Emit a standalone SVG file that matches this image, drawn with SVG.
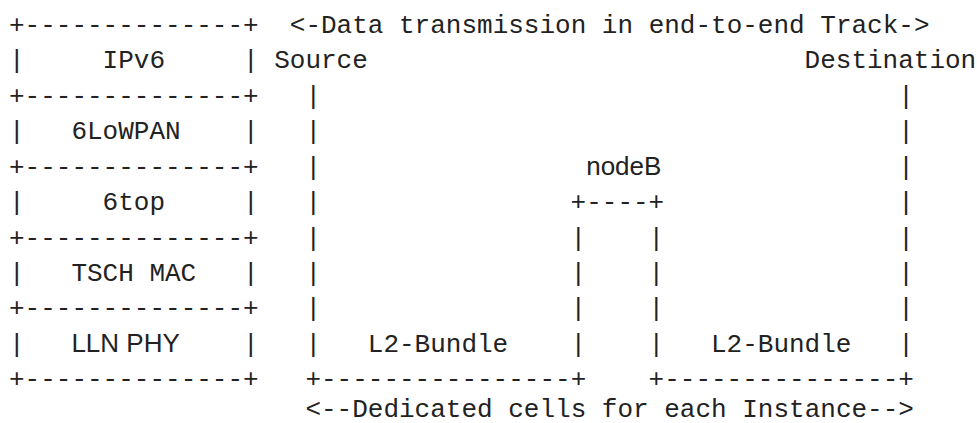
<svg xmlns="http://www.w3.org/2000/svg" width="977" height="423" viewBox="0 0 977 423">
  <style>
    text { font-size: 26px; fill: #222; }
    .m { font-family: "Liberation Mono", "DejaVu Sans Mono", monospace; }
    .s { font-family: "Liberation Sans", Arial, sans-serif; }
  </style>
  <rect width="977" height="423" fill="#fff"/>

  <!-- grid: column c starts at x = 9 + 15.6*c, row n baseline at 32.8 + 35.45*(n-1) -->

  <!-- 6TiSCH protocol stack -->
  <g id="protocol-stack" class="m">
    <text x="9" y="32.8">+--------------+</text>
    <g id="layer-ipv6">
      <text x="9" y="68.25">|</text>
      <text x="102.6" y="68.25">IPv6</text>
      <text x="243" y="68.25">|</text>
    </g>
    <text x="9" y="103.7">+--------------+</text>
    <g id="layer-6lowpan">
      <text x="9" y="139.15">|</text>
      <text x="71.4" y="139.15">6LoWPAN</text>
      <text x="243" y="139.15">|</text>
    </g>
    <text x="9" y="174.6">+--------------+</text>
    <g id="layer-6top">
      <text x="9" y="210.05">|</text>
      <text x="102.6" y="210.05">6top</text>
      <text x="243" y="210.05">|</text>
    </g>
    <text x="9" y="245.5">+--------------+</text>
    <g id="layer-tsch">
      <text x="9" y="280.95">|</text>
      <text x="71.4" y="280.95">TSCH MAC</text>
      <text x="243" y="280.95">|</text>
    </g>
    <text x="9" y="316.4">+--------------+</text>
    <g id="layer-phy">
      <text x="9" y="351.85">|</text>
      <text class="s" x="71.4" y="351.85">LLN PHY</text>
      <text x="243" y="351.85">|</text>
    </g>
    <text x="9" y="387.3">+--------------+</text>
  </g>

  <!-- end points -->
  <g id="source" class="m">
    <text x="274.2" y="68.25">Source</text>
  </g>
  <g id="destination" class="m">
    <text x="804.6" y="68.25">Destination</text>
  </g>

  <!-- intermediate node -->
  <g id="nodeB">
    <text class="s" x="586.2" y="174.6">nodeB</text>
    <text class="m" x="570.6" y="210.05">+----+</text>
  </g>

  <!-- bundle labels -->
  <g id="bundle-source-nodeB" class="m">
    <text x="367.8" y="351.85">L2-Bundle</text>
  </g>
  <g id="bundle-nodeB-destination" class="m">
    <text x="711" y="351.85">L2-Bundle</text>
  </g>

  <!-- track path and captions -->
  <g id="connectors" class="m">
    <text x="289.8" y="32.8">&lt;-Data transmission in end-to-end Track-&gt;</text>

    <!-- Source down-leg -->
    <text x="305.4" y="103.7">|</text>
    <text x="305.4" y="139.15">|</text>
    <text x="305.4" y="174.6">|</text>
    <text x="305.4" y="210.05">|</text>
    <text x="305.4" y="245.5">|</text>
    <text x="305.4" y="280.95">|</text>
    <text x="305.4" y="316.4">|</text>
    <text x="305.4" y="351.85">|</text>

    <!-- nodeB legs -->
    <text x="570.6" y="245.5">|</text>
    <text x="570.6" y="280.95">|</text>
    <text x="570.6" y="316.4">|</text>
    <text x="570.6" y="351.85">|</text>
    <text x="648.6" y="245.5">|</text>
    <text x="648.6" y="280.95">|</text>
    <text x="648.6" y="316.4">|</text>
    <text x="648.6" y="351.85">|</text>

    <!-- Destination down-leg -->
    <text x="898.2" y="103.7">|</text>
    <text x="898.2" y="139.15">|</text>
    <text x="898.2" y="174.6">|</text>
    <text x="898.2" y="210.05">|</text>
    <text x="898.2" y="245.5">|</text>
    <text x="898.2" y="280.95">|</text>
    <text x="898.2" y="316.4">|</text>
    <text x="898.2" y="351.85">|</text>

    <!-- bundle floors -->
    <text x="305.4" y="387.3">+----------------+</text>
    <text x="648.6" y="387.3">+---------------+</text>

    <text x="305.4" y="417">&lt;--Dedicated cells for each Instance--&gt;</text>
  </g>
</svg>
